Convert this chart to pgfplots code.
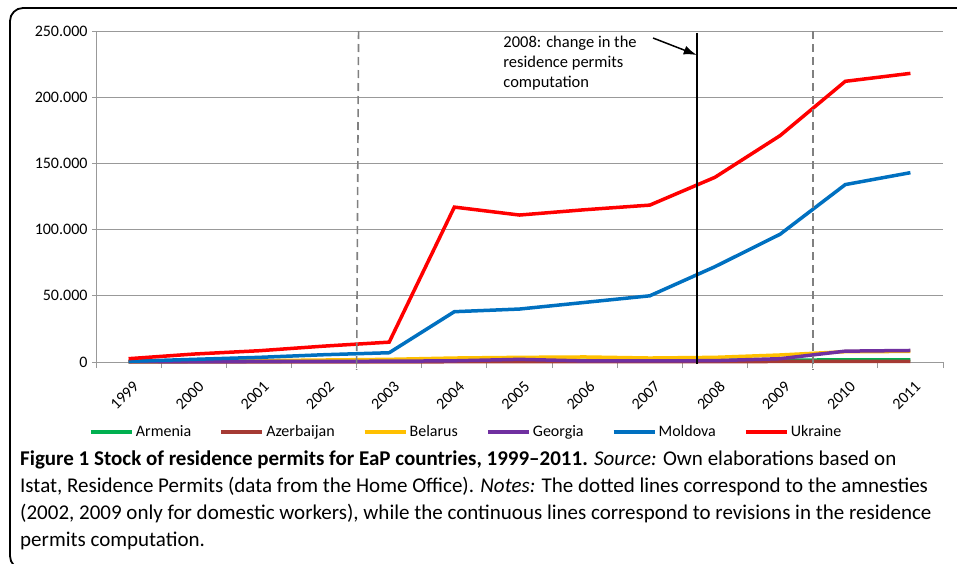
\documentclass[border=0pt]{standalone}
\usepackage{fontspec}
\setmainfont{Carlito}
\usepackage{pgfplots}
\pgfplotsset{compat=1.18}
\usetikzlibrary{arrows.meta}
\definecolor{arm}{RGB}{0,176,80}
\definecolor{aze}{RGB}{165,58,52}
\definecolor{bel}{RGB}{255,192,0}
\definecolor{geo}{RGB}{112,48,160}
\definecolor{mol}{RGB}{0,112,192}
\definecolor{ukr}{RGB}{255,0,0}
\begin{document}
\begin{tikzpicture}
\path[use as bounding box] (0pt,0pt) rectangle (957pt,-564pt);
% frame
\draw[line width=1.8pt, rounded corners=13pt] (960pt,-8pt) -- (10pt,-8pt) -- (10pt,-569pt) -- (40pt,-569pt);
\begin{axis}[
    at={(96pt,-362pt)}, anchor=south west,
    scale only axis, width=847pt, height=331pt,
    xmin=-0.5, xmax=12.5,
    ymin=0, ymax=250000,
    axis x line=bottom, axis y line=left,
    axis line style={-, draw=black!40, line width=1pt},
    xtick={0,...,12},
    xticklabels={1999,2000,2001,2002,2003,2004,2005,2006,2007,2008,2009,2010,2011},
    major x tick style={draw=none},
    minor xtick={-0.5,0.5,...,12.5},
    minor tick length=6pt,
    ytick={0,50000,...,250000},
    major tick length=4pt,
    tick align=outside,
    tick style={draw=black!40, line width=1pt},
    ymajorgrids=true,
    grid style={draw=black!40, line width=1pt},
    scaled y ticks=false,
    /pgf/number format/.cd, 1000 sep={.}, fixed, assume math mode=true,
    /pgfplots/.cd,
    yticklabel style={font=\fontsize{16}{18}\selectfont, xshift=-1pt},
    xticklabel style={font=\fontsize{16}{18}\selectfont, rotate=45, anchor=east, yshift=-18pt, xshift=-4pt},
    clip=false,
    legend columns=6,
    legend style={draw=none, fill=none, font=\fontsize{16}{18}\selectfont,
        at={(axis description cs:0.437,-0.211)}, anchor=center,
        /tikz/every even column/.append style={column sep=26pt}},
    legend image code/.code={\draw[line width=4pt,#1] (0pt,0pt) -- (41pt,0pt);},
    every axis plot/.append style={line width=3.5pt},
]
\addplot[arm] coordinates {(0,200) (1,400) (2,500) (3,700) (4,800) (5,1000) (6,1100) (7,1200) (8,1200) (9,1300) (10,1400) (11,1600) (12,1700)};
\addplot[aze] coordinates {(0,50) (1,80) (2,100) (3,120) (4,150) (5,200) (6,250) (7,250) (8,250) (9,300) (10,400) (11,500) (12,500)};
\addplot[bel] coordinates {(0,200) (1,600) (2,1000) (3,1500) (4,2000) (5,3000) (6,3500) (7,3800) (8,3000) (9,3500) (10,5300) (11,7800) (12,8000)};
\addplot[geo] coordinates {(0,200) (1,300) (2,400) (3,500) (4,600) (5,900) (6,2000) (7,800) (8,800) (9,1000) (10,2500) (11,8200) (12,8700)};
\addplot[mol] coordinates {(0,500) (1,2000) (2,3500) (3,5500) (4,7000) (5,38000) (6,40000) (7,45000) (8,50000) (9,72000) (10,96500) (11,134000) (12,143000)};
\addplot[ukr] coordinates {(0,2500) (1,6000) (2,8500) (3,12000) (4,15000) (5,117000) (6,111000) (7,115000) (8,118500) (9,139500) (10,171000) (11,212000) (12,218000)};
\legend{Armenia,Azerbaijan,Belarus,Georgia,Moldova,Ukraine}
% amnesties and revision lines
\draw[black!50, line width=1.6pt, dash pattern=on 8pt off 5pt] (axis cs:3.53,250000) -- (axis cs:3.5,-6000);
\draw[black!50, line width=1.6pt, dash pattern=on 8pt off 5pt] (axis cs:10.5,250000) -- (axis cs:10.5,-6000);
\draw[black, line width=1.8pt] (axis cs:8.73,248500) -- (axis cs:8.73,-1500);
\draw[black, line width=1.5pt, -{Latex[length=13pt,width=9pt]}] (axis cs:8.05,244700) -- (axis cs:8.72,231900);
\node[anchor=base west, align=left, inner sep=0pt, font=\fontsize{16.5}{20}\selectfont] at (axis cs:5.75,207700)
    {2008: change in the\\residence permits\\computation};
\end{axis}
\node[anchor=base west, align=left, inner sep=0pt, font=\fontsize{21}{26.7}\selectfont] at (20pt,-546pt)
 {\textbf{Figure 1 Stock of residence permits for EaP countries, 1999--2011.} \textit{Source:} Own elaborations based on\\
 Istat, Residence Permits (data from the Home Office). \textit{Notes:} The dotted lines correspond to the amnesties\\
 (2002, 2009 only for domestic workers), while the continuous lines correspond to revisions in the residence\\
 permits computation.};
\end{tikzpicture}
\end{document}
